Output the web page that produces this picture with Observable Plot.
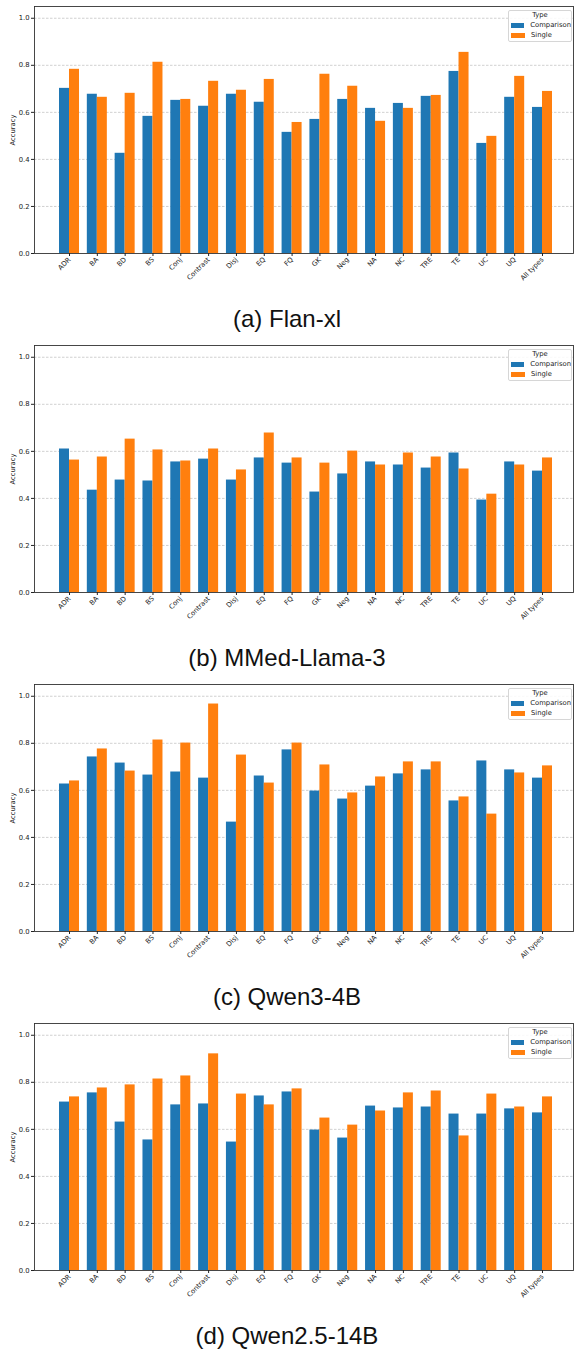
<!DOCTYPE html>
<html><head><meta charset="utf-8">
<script src="https://cdn.jsdelivr.net/npm/d3@7"></script>
<script src="https://cdn.jsdelivr.net/npm/@observablehq/plot@0.6"></script>
<style>
body{margin:0;background:#fff;width:574px;overflow:hidden}
.panel{position:relative;width:574px;height:339px}
.panel svg{display:block}
.caption{font-family:"Liberation Sans",Arial,sans-serif;font-size:24px;line-height:24px;text-align:center;padding-top:11px;height:32px;color:#111}
.legend{position:absolute;left:508px;top:10px;width:62px;height:30px;border:1px solid #d6d6d6;border-radius:2px;background:rgba(255,255,255,0.85);font-family:"DejaVu Sans",sans-serif;font-size:6.8px;color:#222}
.legend .title{height:9px;line-height:9px;text-align:center}
.legend .row{height:10px;line-height:10px;display:flex;align-items:center}
.legend .sw{width:14px;height:5px;margin-left:2px;margin-right:6px}
</style></head><body><div id="root"></div>
<script>
const categories = ["ADR","BA","BD","BS","Conj","Contrast","Disj","EQ","FQ","GK","Neg","NA","NC","TRE","TE","UC","UQ","All types"];
const types = ["Comparison","Single"];
const yTicks = [0,0.2,0.4,0.6,0.8,1.0];
const captions = ["(a) Flan-xl","(b) MMed-Llama-3","(c) Qwen3-4B","(d) Qwen2.5-14B"];

const flanComparison = [0.702,0.677,0.426,0.583,0.651,0.626,0.677,0.643,0.515,0.570,0.655,0.617,0.638,0.668,0.774,0.468,0.664,0.621];
const flanSingle     = [0.783,0.664,0.681,0.813,0.655,0.732,0.694,0.740,0.557,0.762,0.711,0.562,0.617,0.672,0.855,0.498,0.753,0.689];

const mmedComparison = [0.610,0.435,0.478,0.474,0.555,0.567,0.478,0.572,0.550,0.427,0.504,0.555,0.542,0.529,0.593,0.393,0.555,0.516];
const mmedSingle     = [0.563,0.576,0.652,0.606,0.559,0.610,0.521,0.678,0.572,0.550,0.601,0.542,0.593,0.576,0.525,0.418,0.542,0.572];

const qwen3Comparison = [0.627,0.742,0.716,0.665,0.678,0.652,0.465,0.661,0.772,0.597,0.563,0.618,0.670,0.687,0.555,0.725,0.687,0.652];
const qwen3Single     = [0.640,0.776,0.682,0.814,0.801,0.967,0.750,0.631,0.801,0.708,0.589,0.657,0.721,0.721,0.572,0.499,0.674,0.704];

const qwen25Comparison = [0.716,0.755,0.631,0.555,0.704,0.708,0.546,0.742,0.759,0.597,0.563,0.699,0.691,0.695,0.665,0.665,0.687,0.670];
const qwen25Single     = [0.738,0.776,0.789,0.814,0.827,0.921,0.750,0.704,0.772,0.648,0.618,0.678,0.755,0.763,0.572,0.750,0.695,0.738];

const seriesList = [[flanComparison,flanSingle],[mmedComparison,mmedSingle],[qwen3Comparison,qwen3Single],[qwen25Comparison,qwen25Single]];

const root = document.getElementById("root");

seriesList.forEach(([comp, single], k) => {
  const rows = categories.flatMap((c,i)=>[
    {category:c, type:types[0], accuracy:comp[i]},
    {category:c, type:types[1], accuracy:single[i]}
  ]);
  const plot = Plot.plot({
    width:574, height:296,
    marginTop:6, marginBottom:43, marginLeft:34, marginRight:1,
    style:{fontFamily:"DejaVu Sans", fontSize:"6.8px", color:"#222", background:"#fff", overflow:"visible"},
    x:{domain:categories, range:[59,552], paddingInner:0.281, paddingOuter:0, align:0.5, round:false, label:null},
    y:{domain:[0,1.05], label:null},
    color:{domain:types, range:["#1f77b4","#ff7f0e"]},
    marks:[
      Plot.gridY(yTicks.slice(1), {stroke:"#b0b0b0", strokeOpacity:1, strokeDasharray:"2.5,1.5", strokeWidth:0.6}),
      Plot.barY(rows.filter(d=>d.type===types[0]), {x:"category", y:"accuracy", fill:"type", insetRight:10}),
      Plot.barY(rows.filter(d=>d.type===types[1]), {x:"category", y:"accuracy", fill:"type", insetLeft:10}),
      Plot.frame({stroke:"#333", strokeWidth:0.9}),
      Plot.axisY(yTicks, {tickFormat:d3.format(".1f"), tickSize:3, tickPadding:2, label:"Accuracy", labelAnchor:"center", labelArrow:"none", labelOffset:24}),
      Plot.axisX({tickRotate:-45, tickSize:3, tickPadding:2, label:null})
    ]
  });
  const div = document.createElement("div");
  div.className = "panel";
  div.appendChild(plot);
  const color = plot.scale("color");
  const lg = document.createElement("div");
  lg.className = "legend";
  lg.innerHTML = `<div class="title">Type</div>` + types.map((t,i)=>`<div class="row"><span class="sw" style="background:${color.range[i]}"></span><span>${t}</span></div>`).join("");
  div.appendChild(lg);
  const cap = document.createElement("div");
  cap.className = "caption";
  cap.textContent = captions[k];
  div.appendChild(cap);
  root.appendChild(div);
});
</script></body></html>
